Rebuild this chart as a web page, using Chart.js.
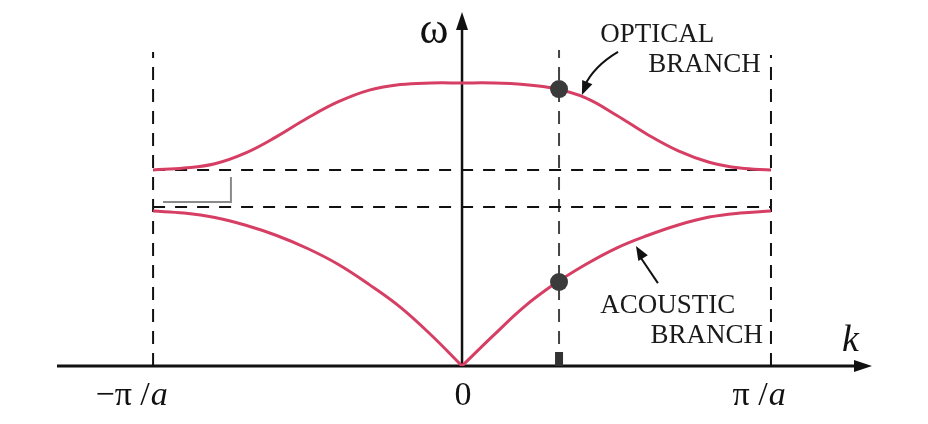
<!DOCTYPE html>
<html><head><meta charset="utf-8">
<script src="https://cdn.jsdelivr.net/npm/chart.js@4/dist/chart.umd.min.js"></script>
<style>html,body{margin:0;padding:0;background:#fff}canvas{display:block}</style>
</head><body>
<canvas id="c" width="928" height="424"></canvas>
<script>
// wave number k in units of pi/a, frequency omega in units of the acoustic maximum
const opticalK = [-1,-0.9,-0.8,-0.7,-0.6,-0.5,-0.4,-0.3,-0.2,-0.1,0,0.1,0.2,0.3,0.4,0.5,0.6,0.7,0.8,0.9,1];
const opticalOmega = [1.265,1.277,1.305,1.375,1.480,1.600,1.705,1.780,1.816,1.826,1.826,1.826,1.816,1.790,1.730,1.618,1.494,1.388,1.315,1.277,1.265];
const acousticLeftK = [-1,-0.9,-0.8,-0.7,-0.6,-0.5,-0.4,-0.3,-0.2,-0.1,0];
const acousticLeftOmega = [1.000,0.987,0.958,0.908,0.842,0.758,0.655,0.525,0.380,0.200,0];
const acousticRightK = [0,0.1,0.2,0.3,0.4,0.5,0.6,0.7,0.8,0.9,1];
const acousticRightOmega = [0,0.194,0.380,0.530,0.655,0.761,0.842,0.910,0.961,0.987,1.000];
const markerK = 0.314;
const markerOmega = [1.787, 0.542];
const zoneEdgeK = [-1, 1];
const zoneEdgeTop = [2.026, 2.006];
const markerLineTop = 2.039;
const gapOmega = [1.026, 1.265];
const tickValues = [-1, 0, 1];
const tickLabels = [["\u2212\u03c0 /", "a"], ["0", ""], ["\u03c0 /", "a"]];
const axisLabels = {omega: "\u03c9", k: "k"};
const branchLabels = {optical: ["OPTICAL", "BRANCH"], acoustic: ["ACOUSTIC", "BRANCH"]};

const RED = 'rgb(214,62,100)';
const pts = (xs, ys) => xs.map((x, i) => ({x, y: ys[i]}));

const datasets = [
  {data: markerOmega.map(w => ({x: markerK, y: w})), showLine: false, pointRadius: 9, pointBackgroundColor: '#3b3b3b', pointBorderWidth: 0},
  {data: pts(opticalK, opticalOmega), borderColor: RED, borderWidth: 3, pointRadius: 0, tension: 0.4},
  {data: pts(acousticLeftK, acousticLeftOmega), borderColor: RED, borderWidth: 3, pointRadius: 0, tension: 0.4},
  {data: pts(acousticRightK, acousticRightOmega), borderColor: RED, borderWidth: 3, pointRadius: 0, tension: 0.4},
];
gapOmega.forEach(g => datasets.push({data: [{x: zoneEdgeK[0], y: g}, {x: zoneEdgeK[1], y: g}], borderColor: '#111', borderWidth: 2, borderDash: [12, 10], pointRadius: 0}));
zoneEdgeK.forEach((k, i) => datasets.push({data: [{x: k, y: 0}, {x: k, y: zoneEdgeTop[i]}], borderColor: '#111', borderWidth: 2, borderDash: [13, 9], pointRadius: 0}));
datasets.push({data: [{x: markerK, y: 0}, {x: markerK, y: markerLineTop}], borderColor: '#444', borderWidth: 2, borderDash: [13, 9], pointRadius: 0});

function arrowHead(ctx, fx, fy, tx, ty, len, hw) {
  const a = Math.atan2(ty - fy, tx - fx);
  ctx.beginPath();
  ctx.moveTo(tx, ty);
  ctx.lineTo(tx - len * Math.cos(a) + hw * Math.sin(a), ty - len * Math.sin(a) - hw * Math.cos(a));
  ctx.lineTo(tx - len * Math.cos(a) - hw * Math.sin(a), ty - len * Math.sin(a) + hw * Math.cos(a));
  ctx.closePath();
  ctx.fill();
}

const decor = {
  id: 'decor',
  beforeDatasetsDraw(chart) {
    const ctx = chart.ctx, xs = chart.scales.x, ys = chart.scales.y, ca = chart.chartArea;
    const X = v => xs.getPixelForValue(v), Y = v => ys.getPixelForValue(v);
    ctx.save();
    ctx.strokeStyle = '#111'; ctx.fillStyle = '#111';
    ctx.lineWidth = 3;
    ctx.beginPath(); ctx.moveTo(ca.left, Y(0)); ctx.lineTo(ca.right - 12, Y(0)); ctx.stroke();
    arrowHead(ctx, ca.left, Y(0), ca.right, Y(0), 18, 6);
    ctx.lineWidth = 2.5;
    ctx.beginPath(); ctx.moveTo(X(0), Y(0)); ctx.lineTo(X(0), ca.top + 12); ctx.stroke();
    arrowHead(ctx, X(0), Y(0), X(0), ca.top, 18, 6);
    ctx.strokeStyle = '#8a8a8a'; ctx.lineWidth = 2;
    ctx.beginPath(); ctx.moveTo(X(-0.748), Y(1.219)); ctx.lineTo(X(-0.748), Y(1.058)); ctx.lineTo(X(-0.968), Y(1.058)); ctx.stroke();
    ctx.restore();
  },
  afterDraw(chart) {
    const ctx = chart.ctx, xs = chart.scales.x, ys = chart.scales.y;
    const X = v => xs.getPixelForValue(v), Y = v => ys.getPixelForValue(v);
    ctx.save();
    ctx.fillStyle = '#333';
    ctx.fillRect(X(markerK) - 4, Y(0) - 14, 8, 14);
    ctx.fillStyle = '#111';
    ctx.textBaseline = 'alphabetic';
    const base = Y(-0.252);
    tickValues.forEach((v, i) => {
      const [main, ital] = tickLabels[i];
      const px = X(v);
      ctx.font = '34px "Liberation Serif"';
      if (!ital) {
        ctx.textAlign = 'center';
        ctx.fillText(main, px + 1, base);
        return;
      }
      ctx.textAlign = 'left';
      const wMain = ctx.measureText(main).width;
      const wSlash = ctx.measureText('/').width;
      const slashCenter = px - 8;
      ctx.fillText(main, slashCenter + wSlash / 2 - wMain, base);
      ctx.font = 'italic 34px "Liberation Serif"';
      ctx.fillText(ital, slashCenter + wSlash / 2 + 1, base);
    });
    ctx.font = '44px "Liberation Serif"';
    ctx.textAlign = 'center';
    ctx.fillText(axisLabels.omega, X(-0.091), Y(2.084));
    ctx.font = 'italic 38px "Liberation Serif"';
    ctx.textAlign = 'left';
    ctx.fillText(axisLabels.k, X(1.230), Y(0.097));
    ctx.font = '27px "Liberation Serif"';
    ctx.fillStyle = '#1a1a1a';
    ctx.fillText(branchLabels.optical[0], X(0.447), Y(2.090));
    ctx.fillText(branchLabels.optical[1], X(0.603), Y(1.897));
    ctx.fillText(branchLabels.acoustic[0], X(0.447), Y(0.342));
    ctx.fillText(branchLabels.acoustic[1], X(0.610), Y(0.148));
    ctx.strokeStyle = '#111'; ctx.fillStyle = '#111'; ctx.lineWidth = 2;
    const s = [X(0.505), Y(2.026)], c = [X(0.427), Y(1.935)], t = [X(0.388), Y(1.748)];
    ctx.beginPath(); ctx.moveTo(s[0], s[1]); ctx.quadraticCurveTo(c[0], c[1], t[0] + 2, t[1] - 8); ctx.stroke();
    arrowHead(ctx, c[0], c[1], t[0], t[1], 14, 5.5);
    const s2 = [X(0.634), Y(0.535)], t2 = [X(0.563), Y(0.774)];
    ctx.beginPath(); ctx.moveTo(s2[0], s2[1]); ctx.lineTo(t2[0] + 3, t2[1] + 9); ctx.stroke();
    arrowHead(ctx, s2[0], s2[1], t2[0], t2[1], 14, 5.5);
    ctx.restore();
  }
};

new Chart(document.getElementById('c'), {
  type: 'line',
  data: {datasets},
  options: {
    responsive: false,
    animation: false,
    layout: {padding: {left: 57, right: 56, top: 12, bottom: 58}},
    plugins: {legend: {display: false}, tooltip: {enabled: false}},
    scales: {
      x: {type: 'linear', display: false, min: -1.311, max: 1.327},
      y: {type: 'linear', display: false, min: 0, max: 2.284}
    }
  },
  plugins: [decor]
});
</script>
</body></html>
